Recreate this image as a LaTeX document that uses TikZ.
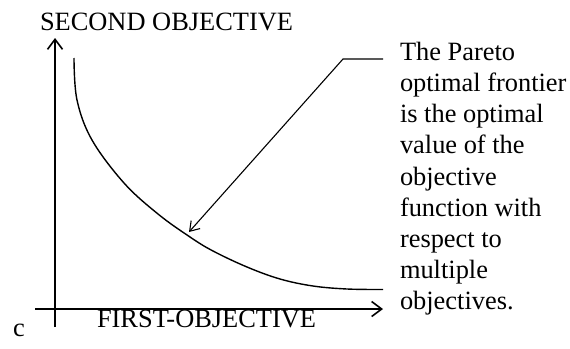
\documentclass[tikz,border=0pt]{standalone}
\usepackage{fontspec}
\setmainfont{Liberation Serif}
\usetikzlibrary{arrows.meta}
\begin{document}
\begin{tikzpicture}[x=1pt,y=-1pt,
  lbl/.style={inner sep=0pt,outer sep=0pt,font=\fontsize{26.4}{31.2}\selectfont},
  axis/.style={line width=2pt,-{Straight Barb[length=10pt,width=15pt,line width=1.6pt]}},
  frontier/.style={line width=1.4pt},
  leader/.style={line width=1.1pt}]
\useasboundingbox (0,0) rectangle (570,348);
% axes
\coordinate (yb) at (55,327);
\coordinate (yt) at (55,38);
\coordinate (xl) at (35,309);
\coordinate (xr) at (383,309);
\draw[axis] (yb) -- (yt);
\draw[axis] (xl) -- (xr);
% labels
\node[lbl,anchor=base west] (ylab) at (40,30) {SECOND OBJECTIVE};
\node[lbl,anchor=base west] (xlab) at (97,327) {FIRST-OBJECTIVE};
\node[lbl,anchor=base west] (c) at (13,336) {c};
% frontier
\draw[frontier] plot[smooth,tension=0.6] coordinates {(74,58) (77,100) (92,140) (124,183) (158,214) (190,237) (213,251) (247,267) (280,279) (313,286) (347,289) (383,289.5)};
% annotation
\node[lbl,anchor=north west,align=left] (note) at (400,42) {The Pareto\\optimal frontier\\is the optimal\\value of the\\objective\\function with\\respect to\\multiple\\objectives.};
\coordinate (lend) at (383,59);
\coordinate (lbend) at (343,59);
\coordinate (ltip) at (189,232);
\draw[leader,-{Straight Barb[length=9pt,width=12pt,line width=1.1pt]}] (lend) -- (lbend) -- (ltip);
\end{tikzpicture}
\end{document}
